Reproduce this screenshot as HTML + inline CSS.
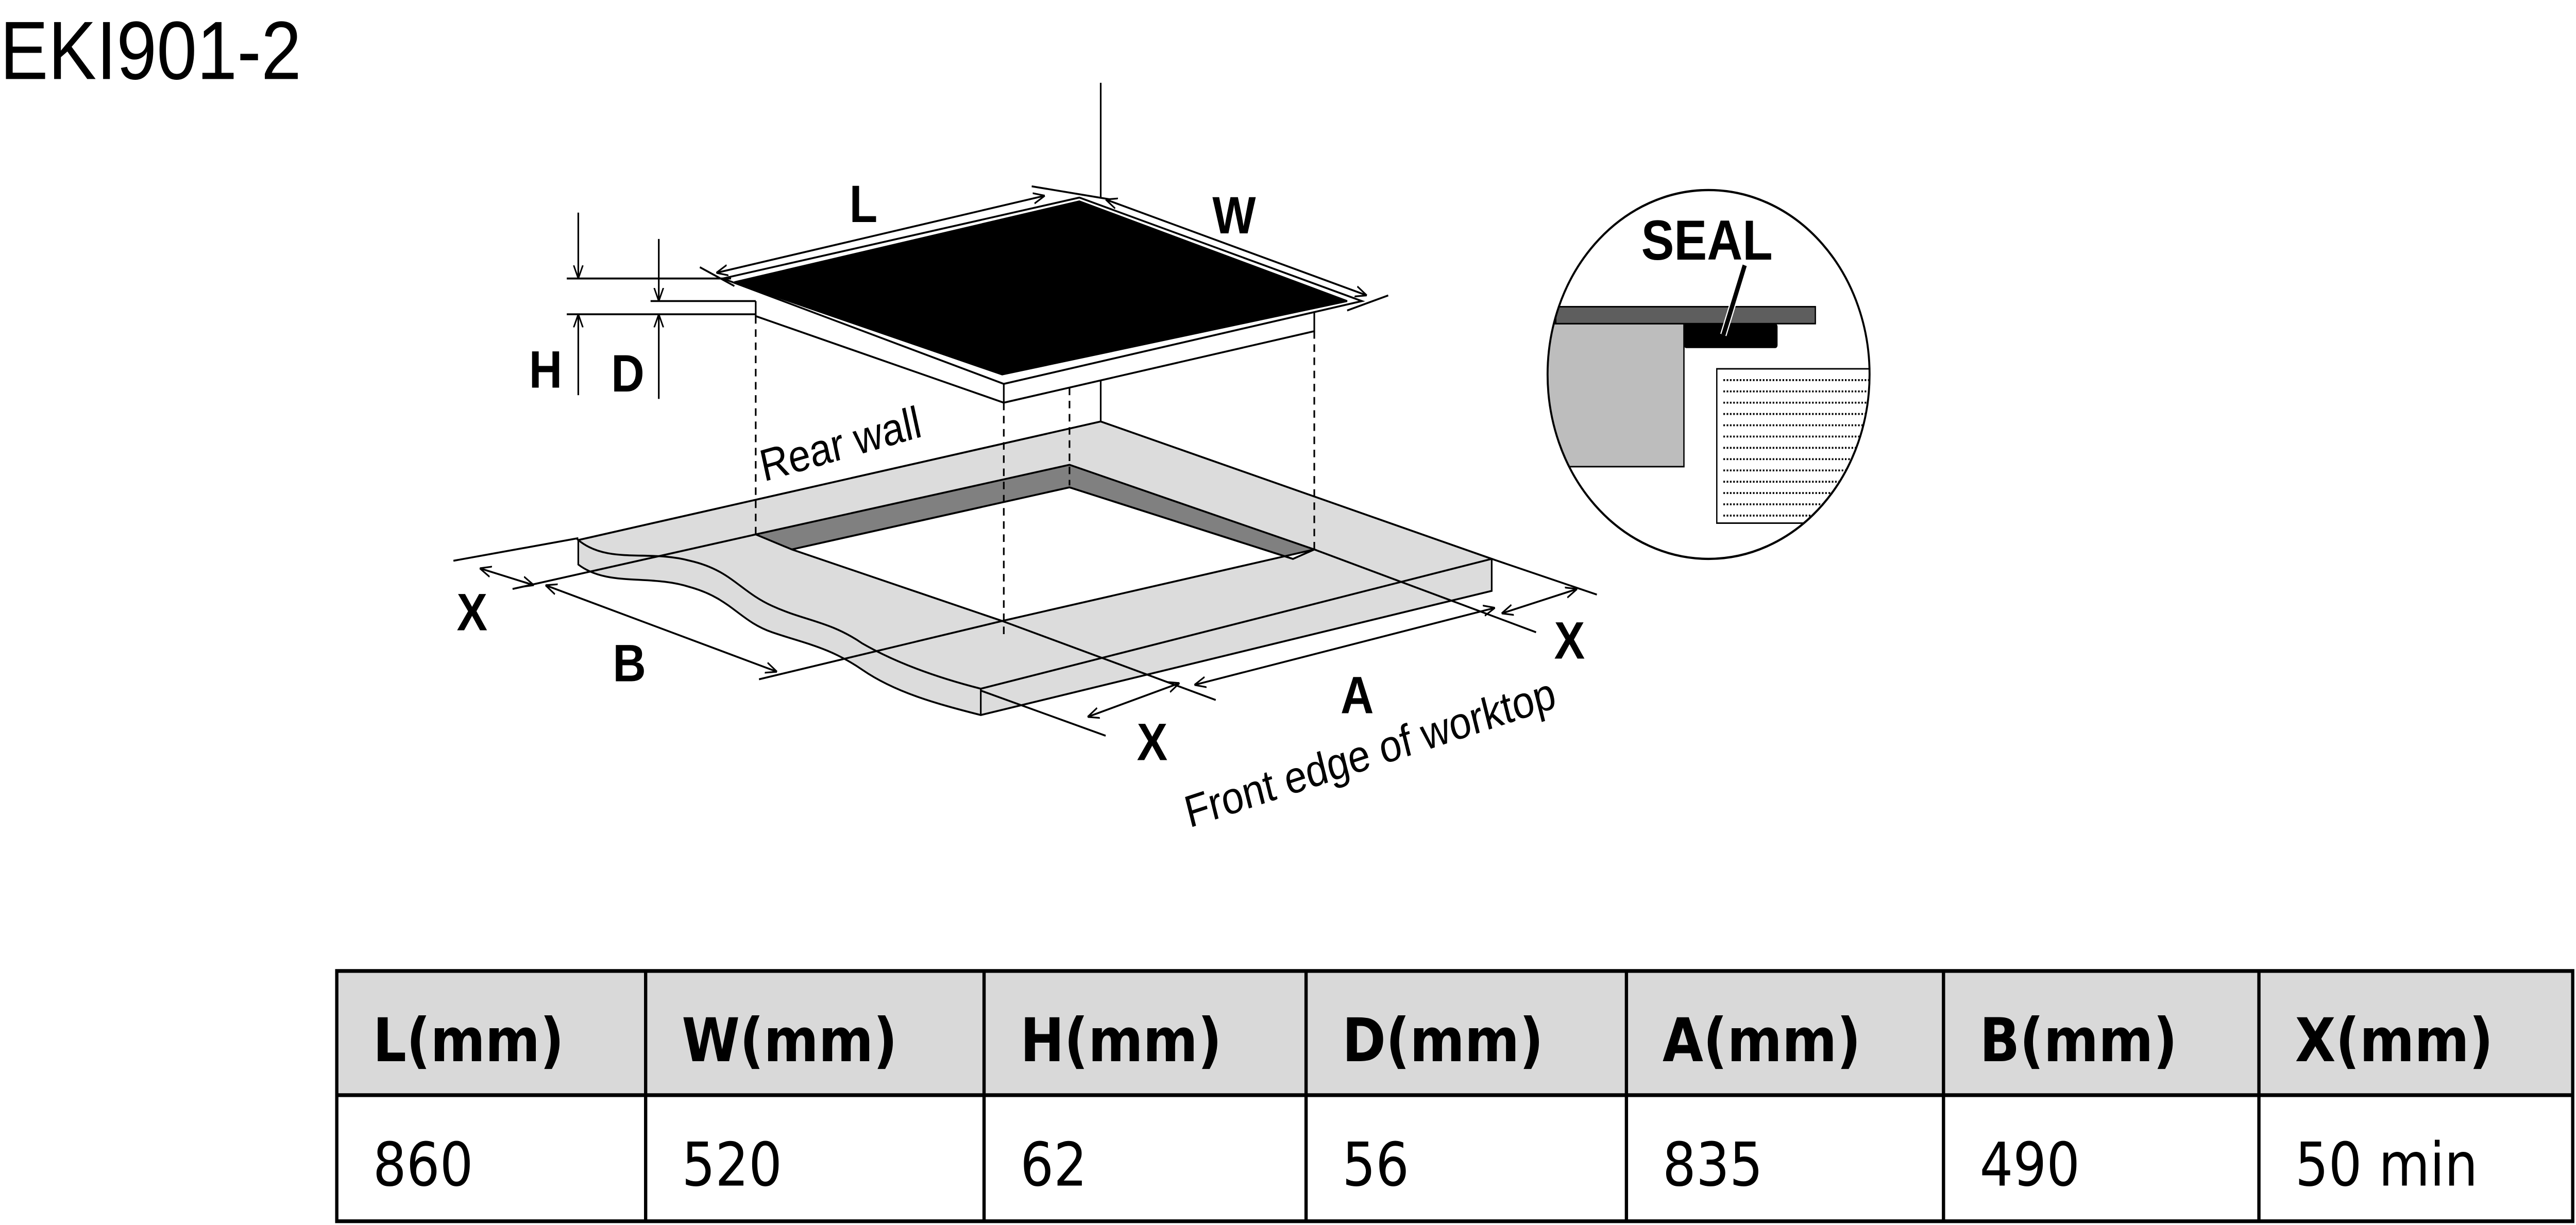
<!DOCTYPE html>
<html><head><meta charset="utf-8"><style>
html,body{margin:0;padding:0;background:#fff;width:100%;height:100%;overflow:hidden;}
svg{display:block;width:100vw;height:100vh}
</style></head><body>
<svg viewBox="0 0 1568 651" preserveAspectRatio="none" xmlns="http://www.w3.org/2000/svg">
<defs>
<marker id="a" viewBox="0 0 10 10" refX="10" refY="5" markerWidth="7" markerHeight="7" orient="auto-start-reverse" markerUnits="userSpaceOnUse"><path d="M0,1 L10,5 L0,9" fill="none" stroke="#000" stroke-width="1.3"/></marker>
<clipPath id="c"><circle cx="1040" cy="199" r="98"/></clipPath>
</defs>
<text x="0" y="42" font-family="Liberation Sans, sans-serif" font-size="44">EKI901-2</text>

<g stroke="#000" stroke-width="1" fill="none">
<path d="M352,287 L352,300 C370,312 395,305 420,312 C445,318 450,330 470,336 C490,342 505,344 525,356 C545,368 570,374 597,380 L908,314 L908,297 L670,224 Z" fill="#dcdcdc"/>
<path d="M352,287 L670,224 L908,297 L597,366 C570,360 545,352 525,342 C505,330 490,330 470,322 C450,314 445,303 420,298 C395,292 370,300 352,287 Z" fill="#dcdcdc"/>
<line x1="597" y1="366" x2="597" y2="380"/>
<path d="M460,284 L651,247 L800,292 L787,297 L651,259 L482,292 Z" fill="#808080"/>
<path d="M482,292 L651,259 L787,297 L800,292 L610,330 Z" fill="#fff"/>
<line x1="276" y1="298" x2="352" y2="286"/>
<line x1="312" y1="313" x2="460" y2="284"/>
<line x1="462" y1="361" x2="610" y2="330"/>
<line x1="610" y1="330" x2="740" y2="372"/>
<line x1="800" y1="292" x2="935" y2="336"/>
<line x1="908" y1="297" x2="972" y2="316"/>
<line x1="597" y1="367" x2="673" y2="391"/>
<line x1="292" y1="302" x2="325" y2="311" marker-start="url(#a)" marker-end="url(#a)"/>
<line x1="332" y1="311" x2="473" y2="357" marker-start="url(#a)" marker-end="url(#a)"/>
<line x1="662" y1="381" x2="718" y2="363" marker-start="url(#a)" marker-end="url(#a)"/>
<line x1="727" y1="364" x2="910" y2="323" marker-start="url(#a)" marker-end="url(#a)"/>
<line x1="914" y1="326" x2="960" y2="313" marker-start="url(#a)" marker-end="url(#a)"/>
<g stroke-dasharray="4,3">
<line x1="460" y1="168" x2="460" y2="284"/>
<line x1="611" y1="214" x2="611" y2="338"/>
<line x1="651" y1="206" x2="651" y2="258"/>
<line x1="800" y1="176" x2="800" y2="292"/>
</g>
<line x1="670" y1="44" x2="670" y2="105"/>
<line x1="670" y1="202" x2="670" y2="224"/>
<path d="M460,160 L460,168 L611,214 L800,176 L800,166" fill="#fff"/>
<path d="M440,148 L657,105 L829,160 L611,204 Z" fill="#fff"/>
<line x1="611" y1="204" x2="611" y2="214"/>
<path d="M447,150 L657,107 L820,160 L610,199 Z" fill="#000"/>
<line x1="426" y1="142" x2="447" y2="152"/>
<line x1="436" y1="145" x2="636" y2="104" marker-start="url(#a)" marker-end="url(#a)"/>
<line x1="628" y1="99" x2="676" y2="106"/>
<line x1="673" y1="106" x2="832" y2="157" marker-start="url(#a)" marker-end="url(#a)"/>
<line x1="820" y1="165" x2="845" y2="157"/>
<line x1="352" y1="113" x2="352" y2="148" marker-end="url(#a)"/>
<line x1="352" y1="210" x2="352" y2="167" marker-end="url(#a)"/>
<line x1="401" y1="127" x2="401" y2="160" marker-end="url(#a)"/>
<line x1="401" y1="212" x2="401" y2="167" marker-end="url(#a)"/>
<line x1="345" y1="148" x2="445" y2="148"/>
<line x1="396" y1="160" x2="460" y2="160"/>
<line x1="345" y1="167" x2="460" y2="167"/>
</g>
<g font-family="Liberation Sans, sans-serif" font-weight="bold" font-size="28">
<text x="517" y="118">L</text>
<text x="738" y="124">W</text>
<text x="322" y="206">H</text>
<text x="372" y="208">D</text>
<text x="278" y="335">X</text>
<text x="373" y="362">B</text>
<text x="692" y="404">X</text>
<text x="816" y="379">A</text>
<text x="946" y="350">X</text>
</g>
<g font-family="Liberation Sans, sans-serif" font-size="24">
<text transform="translate(465,256) rotate(-14)">Rear wall</text>
<text transform="translate(724,440) rotate(-16)">Front edge of worktop</text>
</g>
<g clip-path="url(#c)">
<rect x="930" y="90" width="220" height="220" fill="#fff"/>
<rect x="930" y="172" width="95" height="76" fill="#bdbdbd" stroke="#000" stroke-width="0.8"/>
<rect x="947" y="163" width="158" height="9" fill="#5e5e5e" stroke="#000" stroke-width="0.8"/>
<rect x="1025" y="172" width="57" height="13" rx="1.5" fill="#000"/>
<rect x="1045" y="196" width="100" height="82" fill="#fff" stroke="#000" stroke-width="0.8"/>
<g stroke="#000" stroke-width="1" stroke-dasharray="1,1">
<line x1="1049" y1="202" x2="1145" y2="202"/><line x1="1049" y1="208" x2="1145" y2="208"/>
<line x1="1049" y1="214" x2="1145" y2="214"/><line x1="1049" y1="220" x2="1145" y2="220"/>
<line x1="1049" y1="226" x2="1145" y2="226"/><line x1="1049" y1="232" x2="1145" y2="232"/>
<line x1="1049" y1="238" x2="1145" y2="238"/><line x1="1049" y1="244" x2="1145" y2="244"/>
<line x1="1049" y1="250" x2="1145" y2="250"/><line x1="1049" y1="256" x2="1145" y2="256"/>
<line x1="1049" y1="262" x2="1145" y2="262"/><line x1="1049" y1="268" x2="1145" y2="268"/>
<line x1="1049" y1="274" x2="1145" y2="274"/>
</g>
<line x1="1062" y1="141" x2="1049" y2="178" stroke="#fff" stroke-width="4"/>
<line x1="1062" y1="141" x2="1049" y2="178" stroke="#000" stroke-width="2.6"/>
</g>
<circle cx="1040" cy="199" r="98" fill="none" stroke="#000" stroke-width="1.2"/>
<text x="999" y="138" font-family="Liberation Sans, sans-serif" font-weight="bold" font-size="30">SEAL</text>

<rect x="205" y="516" width="1361" height="66" fill="#d9d9d9"/>
<g stroke="#000" stroke-width="2" fill="none">
<rect x="205" y="516" width="1361" height="133"/>
<line x1="205" y1="582" x2="1566" y2="582"/>
<line x1="393" y1="516" x2="393" y2="649"/><line x1="599" y1="516" x2="599" y2="649"/>
<line x1="795" y1="516" x2="795" y2="649"/><line x1="990" y1="516" x2="990" y2="649"/>
<line x1="1183" y1="516" x2="1183" y2="649"/><line x1="1375" y1="516" x2="1375" y2="649"/>
</g>
<g font-family="DejaVu Sans, sans-serif" font-weight="bold" font-size="32">
<text x="227" y="564">L(mm)</text><text x="415" y="564">W(mm)</text>
<text x="621" y="564">H(mm)</text><text x="817" y="564">D(mm)</text>
<text x="1012" y="564">A(mm)</text><text x="1205" y="564">B(mm)</text>
<text x="1397" y="564">X(mm)</text>
</g>
<g font-family="DejaVu Sans, sans-serif" font-size="32">
<text x="227" y="630">860</text><text x="415" y="630">520</text>
<text x="621" y="630">62</text><text x="817" y="630">56</text>
<text x="1012" y="630">835</text><text x="1205" y="630">490</text>
<text x="1397" y="630">50 min</text>
</g>
</svg>
</body></html>
